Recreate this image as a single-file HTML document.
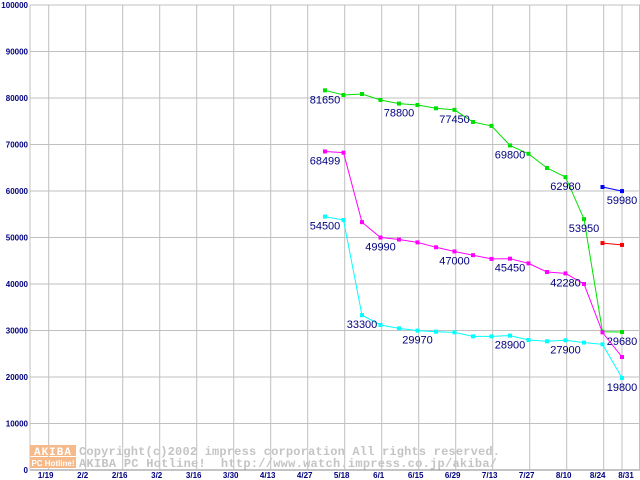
<!DOCTYPE html>
<html><head><meta charset="utf-8"><style>
body{margin:0;background:#fff}
svg{display:block;font-family:"Liberation Sans",sans-serif}
</style></head><body>
<svg id="chart" width="640" height="480" viewBox="0 0 640 480" xmlns="http://www.w3.org/2000/svg">
<rect width="640" height="480" fill="#fff"/>
<g id="grid"></g>
<g id="ylabels"></g>
<g id="xlabels"></g>
<g>
  <rect x="30" y="445" width="46" height="11" fill="#f5b98a"/>
  <text x="53" y="455" font-size="11" font-weight="bold" fill="#fff" text-anchor="middle" font-family="Liberation Mono,monospace" letter-spacing="1">AKIBA</text>
  <rect x="30" y="457" width="46" height="11" fill="#f5b98a"/>
  <text x="53" y="466" font-size="8" font-weight="bold" fill="#fff" text-anchor="middle">PC Hotline!</text>
  <text x="79" y="455" font-size="12" fill="#c4c4c4" font-family="Liberation Mono,monospace" font-weight="bold" textLength="421" lengthAdjust="spacing">Copyright(c)2002 impress corporation All rights reserved.</text>
  <text x="79" y="467" font-size="12" fill="#c4c4c4" font-family="Liberation Mono,monospace" font-weight="bold" textLength="418" lengthAdjust="spacing" xml:space="preserve">AKIBA PC Hotline!  http://www.watch.impress.co.jp/akiba/</text>
</g>
<g id="series"></g>
</svg>
<script>
const xTickLabels=["1/19","2/2","2/16","3/2","3/16","3/30","4/13","4/27","5/18","6/1","6/15","6/29","7/13","7/27","8/10","8/24","8/31"];
const yTicks=[0,10000,20000,30000,40000,50000,60000,70000,80000,90000,100000];
const greenValues=[81650,80650,80860,79570,78800,78500,77780,77450,74840,74000,69800,68000,64950,62980,53950,29740,29680];
const magentaValues=[68499,68250,53300,49990,49560,48950,47900,47000,46200,45400,45450,44440,42580,42280,40000,29600,24300];
const cyanValues=[54500,53760,33300,31180,30460,29970,29750,29600,28740,28740,28900,27950,27680,27900,27400,27030,19800];
const blueValues=[60860,59980];
const redValues=[48800,48400];
const greenLabels=[[0,"81650"],[4,"78800"],[7,"77450"],[10,"69800"],[13,"62980"],[14,"53950"],[16,"29680"]];
const magentaLabels=[[0,"68499"],[3,"49990"],[7,"47000"],[10,"45450"],[13,"42280"]];
const cyanLabels=[[0,"54500"],[2,"33300"],[5,"29970"],[10,"28900"],[13,"27900"],[16,"19800"]];
const blueLabels=[[1,"59980"]];

const NS="http://www.w3.org/2000/svg";
function yS(v){return 470-v*0.00465;}
function tickX(i){return i<16?48.7+37*i:622;}
function ptX(i){return i<16?325+18.5*i:622;}
function mk(tag,attrs,parent){const e=document.createElementNS(NS,tag);for(const k in attrs)e.setAttribute(k,attrs[k]);parent.appendChild(e);return e;}
const grid=document.getElementById('grid'),yl=document.getElementById('ylabels'),xl=document.getElementById('xlabels'),ser=document.getElementById('series');
yTicks.forEach(v=>{
  const l=mk('line',{x1:30,x2:640,y1:yS(v),y2:yS(v),stroke:v===0?'#888':'#c0c0c0','stroke-width':1},grid);
  
  
  const t=mk('text',{x:28,y:yS(v)+3,'font-size':8,'font-weight':'bold',fill:'#000080','text-anchor':'end'},yl);
  t.textContent=v;
  
  
});
mk('line',{x1:30,x2:30,y1:5,y2:470,stroke:'#c0c0c0'},grid);
mk('line',{x1:639.5,x2:639.5,y1:5,y2:470,stroke:'#c0c0c0'},grid);
xTickLabels.forEach((s,i)=>{
  const x=tickX(i);
  const l=mk('line',{x1:x,x2:x,y1:5,y2:470,stroke:'#c0c0c0'},grid);
  
  
  let cx=x-3; if(i===15)cx=x-6; if(i===16)cx=x+4;
  const t=mk('text',{x:cx,y:478,'font-size':8,'font-weight':'bold',fill:'#000080','text-anchor':'middle'},xl);
  t.textContent=s;
  
  
});
function drawSeries(vals,offset,color,labels,name){
  const g=mk('g',{},ser);
  
  
  const pts=vals.map((v,i)=>ptX(i+offset).toFixed(1)+','+yS(v).toFixed(1)).join(' ');
  const pl=mk('polyline',{points:pts,fill:'none',stroke:color,'stroke-width':1},g);
  
  
  vals.forEach((v,i)=>{
    const r=mk('rect',{x:ptX(i+offset)-2,y:yS(v)-2,width:4,height:4,fill:color},g);
    
    
  });
  labels.forEach(([i,s])=>{
    const t=mk('text',{x:ptX(i+offset),y:yS(vals[i])+13,'font-size':11,fill:'#000080','text-anchor':'middle'},g);
    t.textContent=s;
    
    
  });
}
drawSeries(greenValues,0,'#00e000',greenLabels,'green');
drawSeries(magentaValues,0,'#ff00ff',magentaLabels,'magenta');
drawSeries(cyanValues,0,'#00ffff',cyanLabels,'cyan');
drawSeries(blueValues,15,'#0000ff',blueLabels,'blue');
drawSeries(redValues,15,'#ff0000',[],'red');
</script>
</body></html>
